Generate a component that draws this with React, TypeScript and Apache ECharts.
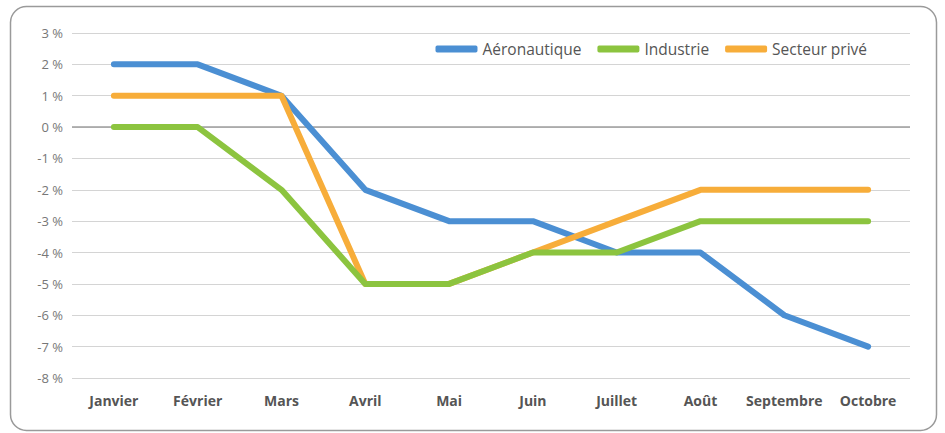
import React, { useEffect, useRef } from "react";
import * as echarts from "echarts";

const months = ["Janvier", "Février", "Mars", "Avril", "Mai", "Juin", "Juillet", "Août", "Septembre", "Octobre"];
const aeronautique = [2, 2, 1, -2, -3, -3, -4, -4, -6, -7];
const industrie = [0, 0, -2, -5, -5, -4, -4, -3, -3, -3];
const secteurPrive = [1, 1, 1, -5, -5, -4, -3, -2, -2, -2];
const legendNames = ["Aéronautique", "Industrie", "Secteur privé"];
const colors = { aero: "#4b8fd3", indus: "#8cc43f", prive: "#f7ad3a" };

export default function App() {
  const ref = useRef<HTMLDivElement>(null);
  useEffect(() => {
    if (!ref.current) return;
    const chart = echarts.init(ref.current, null, { renderer: "svg" });
    const font = "'Open Sans', 'Noto Sans', sans-serif";
    const lineStyle = (c: string) => ({ color: c, width: 6, join: "round" as const, cap: "round" as const });
    chart.setOption({
      animation: false,
      textStyle: { fontFamily: font },
      graphic: [
        {
          type: "rect",
          shape: { x: 10.5, y: 6.5, width: 926, height: 424, r: 16 },
          style: { fill: "none", stroke: "#9a9a9a", lineWidth: 1.5 },
          silent: true,
        },
      ],
      grid: { left: 72, right: 35, top: 33, bottom: 55, containLabel: false },
      legend: {
        data: legendNames,
        right: 73,
        top: 36,
        icon: "roundRect",
        itemWidth: 42,
        itemHeight: 7,
        itemGap: 16,
        textStyle: { color: "#555", fontSize: 15.5, fontFamily: font },
      },
      xAxis: {
        type: "category",
        data: months,
        boundaryGap: true,
        axisLine: { show: false },
        axisTick: { show: false },
        axisLabel: { interval: 0, color: "#555", fontSize: 14, fontWeight: "bold", margin: 15, fontFamily: font },
      },
      yAxis: {
        type: "value",
        min: -8,
        max: 3,
        interval: 1,
        axisLine: { show: false },
        axisTick: { show: false },
        axisLabel: { color: "#777", fontSize: 13, margin: 9, formatter: (v: number) => `${v} %`, fontFamily: font },
        splitLine: {
          lineStyle: { color: "#d4d4d4", width: 1.2 },
        },
      },
      series: [
        {
          name: "Aéronautique",
          type: "line",
          data: aeronautique,
          symbol: "none",
          color: colors.aero,
          lineStyle: lineStyle(colors.aero),
          z: 2,
          markLine: {
            silent: true,
            symbol: "none",
            label: { show: false },
            lineStyle: { color: "#9e9e9e", width: 1.5, type: "solid" },
            data: [{ yAxis: 0 }],
            z: 1,
          },
        },
        {
          name: "Secteur privé",
          type: "line",
          data: secteurPrive,
          symbol: "none",
          color: colors.prive,
          lineStyle: lineStyle(colors.prive),
          z: 3,
        },
        {
          name: "Industrie",
          type: "line",
          data: industrie,
          symbol: "none",
          color: colors.indus,
          lineStyle: lineStyle(colors.indus),
          z: 4,
        },
      ],
    });
    return () => chart.dispose();
  }, []);
  return (
    <div style={{ position: "absolute", left: 0, top: 0, width: 945, height: 433, background: "#fff" }}>
      <div ref={ref} style={{ width: 945, height: 433 }} />
    </div>
  );
}
